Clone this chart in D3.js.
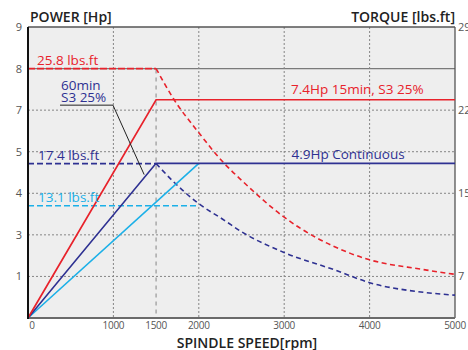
<!DOCTYPE html>
<html>
<head>
<meta charset="utf-8">
<script src="https://cdn.jsdelivr.net/npm/d3@7"></script>
<style>
  html, body { margin: 0; padding: 0; background: #fff; }
  svg { display: block; font-family: "Open Sans", "Noto Sans", sans-serif; }
</style>
</head>
<body>
<svg id="chart" width="468" height="350"></svg>
<script>
// ---------- data ----------
const rpmTicks = [0, 1000, 1500, 2000, 3000, 4000, 5000];
const powerTicks = [0, 1, 3, 4, 5, 7, 8, 9];          // labels as printed on the left axis
const powerTickLabels = ["", "1", "3", "4", "5", "7", "8", "9"];
const torqueTicks = [7, 15, 22, 29];                   // labels as printed on the right axis
const torqueTickGrid = [1, 3, 5, 7];                   // gridline index of each torque label

// power curves [rpm, Hp]
const s3Power   = [[0, 0], [1500, 7.25], [5000, 7.25]];
const contPower = [[0, 0], [1500, 4.72], [5000, 4.72]];
const lowPower  = [[0, 0], [2000, 4.72]];

// torque curves [rpm, lbs.ft]
const s3TorqueFlat   = [[0, 25.5], [1500, 25.5]];
const s3TorqueCurve  = [[1500, 25.5], [1700, 23.0], [2000, 20.1], [2300, 17.5], [2500, 16.1],
                        [3000, 12.7], [3750, 9.3], [4000, 8.6], [4600, 7.7], [5000, 7.2]];
const contTorqueFlat  = [[0, 17.5], [1500, 17.5]];
const contTorqueCurve = [[1500, 17.5], [1700, 16.0], [2000, 14.0], [2300, 12.4], [2500, 11.3],
                         [3000, 9.3], [3600, 7.6], [4000, 6.4], [4600, 5.5], [5000, 5.2]];
const lowTorqueFlat   = [[0, 13.8], [2000, 13.8]];

// leader line for "60min S3 25%" [rpm, Hp]
const leader = [[375, 7.12], [995, 7.12], [1360, 4.45]];

const RED = "#e8222b", NAVY = "#2e3192", CYAN = "#1bb0e8";

// ---------- layout ----------
const svg = d3.select("#chart");
const L = 28, R = 455, T = 27, B = 318;
const step = (B - T) / 7;

const x = d3.scaleLinear().domain([0, 5000]).range([L, R]);
const yP = d3.scaleLinear().domain(powerTicks).range(powerTicks.map((d, i) => B - i * step));
const yT = d3.scaleLinear().domain(torqueTicks).range(torqueTickGrid.map(i => B - i * step));

// plot background
svg.append("rect").attr("x", L).attr("y", T).attr("width", R - L).attr("height", B - T)
  .attr("fill", "#eeeeee");

// horizontal grid (dotted) at 1,3,4,5,7
const g = svg.append("g");
g.selectAll("line.hg").data(powerTicks.filter(d => d > 0 && d < 8)).join("line")
  .attr("x1", L).attr("x2", R).attr("y1", d => yP(d)).attr("y2", d => yP(d))
  .attr("stroke", "#858585").attr("stroke-width", 1).attr("stroke-dasharray", "2,2");
// solid gray line at 8
g.append("line").attr("x1", L).attr("x2", R).attr("y1", yP(8)).attr("y2", yP(8))
  .attr("stroke", "#7a7a7a").attr("stroke-width", 1.3);
// vertical grid (dotted)
g.selectAll("line.vg").data(rpmTicks.filter(d => d > 0 && d < 5000 && d !== 1500)).join("line")
  .attr("x1", d => x(d)).attr("x2", d => x(d)).attr("y1", T).attr("y2", B)
  .attr("stroke", "#858585").attr("stroke-width", 1).attr("stroke-dasharray", "2,2");
// 1500 vertical (longer dashes, from torque line down)
g.append("line").attr("x1", x(1500)).attr("x2", x(1500)).attr("y1", yP(8) + 1).attr("y2", B)
  .attr("stroke", "#a8a8a8").attr("stroke-width", 1.5).attr("stroke-dasharray", "4,4");

// border
svg.append("line").attr("x1", L).attr("x2", R).attr("y1", T).attr("y2", T).attr("stroke", "#555").attr("stroke-width", 1.3);
svg.append("line").attr("x1", R).attr("x2", R).attr("y1", T).attr("y2", B).attr("stroke", "#555").attr("stroke-width", 1.3);
svg.append("line").attr("x1", L).attr("x2", R).attr("y1", B).attr("y2", B).attr("stroke", "#6a6a6a").attr("stroke-width", 2);

// ---------- curves ----------
const lineP = d3.line().x(d => x(d[0])).y(d => yP(d[1]));
const lineT = d3.line().x(d => x(d[0])).y(d => yT(d[1]));
const lineTc = d3.line().x(d => x(d[0])).y(d => yT(d[1])).curve(d3.curveMonotoneX);

function path(data, gen, color, dash, w) {
  svg.append("path").datum(data).attr("d", gen).attr("fill", "none")
    .attr("stroke", color).attr("stroke-width", w || 1.6)
    .attr("stroke-dasharray", dash || null);
}

path(lowTorqueFlat, lineT, CYAN, "6,3", 1.6);
path(contTorqueFlat, lineT, NAVY, "6,3", 1.6);
path(s3TorqueFlat, lineT, RED, "7,2", 1.8);
path(contTorqueCurve, lineTc, NAVY, "5,3.5", 1.6);
path(s3TorqueCurve, lineTc, RED, "5,3.5", 1.6);

path(lowPower, lineP, CYAN, null, 1.6);
path(contPower, lineP, NAVY, null, 1.6);
path(s3Power, lineP, RED, null, 1.7);

// leader
svg.append("path").datum(leader).attr("d", lineP).attr("fill", "none")
  .attr("stroke", "#222").attr("stroke-width", 1);

// left axis line
svg.append("line").attr("x1", L).attr("x2", L).attr("y1", T).attr("y2", B + 1)
  .attr("stroke", "#111").attr("stroke-width", 2);

// ---------- tick labels ----------
svg.append("g").selectAll("text").data(powerTicks.filter(d => d > 0)).join("text")
  .attr("x", L - 6).attr("y", d => yP(d)).attr("dy", "0.36em")
  .attr("text-anchor", "end").attr("font-size", 11).attr("fill", "#555")
  .text(d => powerTickLabels[powerTicks.indexOf(d)]);

svg.append("g").selectAll("text").data(torqueTicks).join("text")
  .attr("x", R + 3).attr("y", d => yT(d)).attr("dy", "0.36em")
  .attr("text-anchor", "start").attr("font-size", 11).attr("fill", "#555")
  .text(d => d);

svg.append("g").selectAll("text").data(rpmTicks).join("text")
  .attr("x", d => d === 0 ? x(d) + 4 : x(d)).attr("y", 329)
  .attr("text-anchor", "middle").attr("font-size", 10).attr("fill", "#555")
  .attr("letter-spacing", "-0.3")
  .text(d => d);

// ---------- titles ----------
svg.append("text").attr("x", 30).attr("y", 22).attr("font-size", 14).attr("font-weight", 600)
  .attr("fill", "#222").text("POWER [Hp]");
svg.append("text").attr("x", R).attr("y", 22).attr("text-anchor", "end").attr("font-size", 14)
  .attr("font-weight", 600).attr("fill", "#222").text("TORQUE [lbs.ft]");
svg.append("text").attr("x", 247).attr("y", 347.5).attr("text-anchor", "middle").attr("font-size", 14)
  .attr("font-weight", 600).attr("fill", "#222").text("SPINDLE SPEED[rpm]");

// ---------- annotations ----------
function label(txt, px, py, color, size) {
  svg.append("text").attr("x", px).attr("y", py).attr("font-size", size || 14)
    .attr("fill", color).text(txt);
}
label("25.8 lbs.ft", x(0) + 9, yT(25.5) - 4, RED, 13.5);
label("60min", x(0) + 33, yP(7.12) - 15, NAVY, 13.5);
label("S3 25%", x(0) + 33, yP(7.12) - 3, NAVY, 13.5);
label("7.4Hp 15min, S3 25%", x(3080), yP(7.25) - 5.5, RED, 13.5);
label("17.4 lbs.ft", x(0) + 10, yT(17.5) - 4, NAVY, 13.5);
label("13.1 lbs.ft", x(0) + 10, yT(13.8) - 4, CYAN, 13.5);
label("4.9Hp Continuous", x(3085), yP(4.72) - 4, NAVY, 13.5);
</script>
</body>
</html>
